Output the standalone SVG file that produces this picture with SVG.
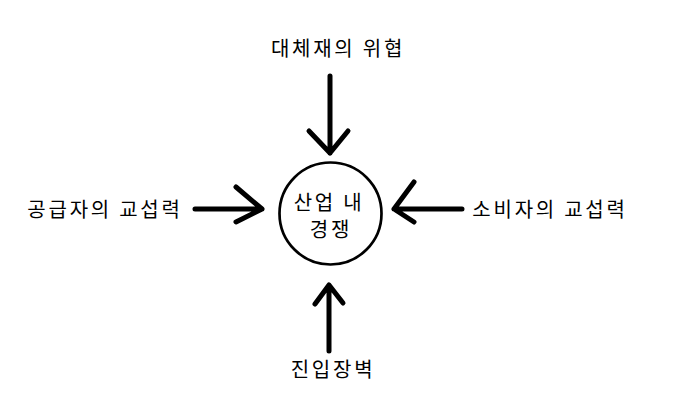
<svg xmlns="http://www.w3.org/2000/svg" width="678" height="411" viewBox="0 0 678 411">
<style>
text{font-family:"Noto Sans CJK KR","Noto Sans",sans-serif;font-size:20px;fill:#000;text-anchor:middle;letter-spacing:2.75px}
.c{fill:none;stroke:#000;stroke-width:5;stroke-linecap:round;stroke-linejoin:round}
</style>
<rect width="678" height="411" fill="#fff"/>
<g id="center">
<circle cx="330.5" cy="213.5" r="51" fill="none" stroke="#000" stroke-width="2.7"/>
<text x="329" y="210">산업 내</text>
<text x="331" y="237">경쟁</text>
</g>
<g id="top"><text x="338" y="56">대체재의 위협</text></g>
<g id="left"><text x="105" y="217">공급자의 교섭력</text></g>
<g id="right"><text x="550" y="217">소비자의 교섭력</text></g>
<g id="bottom"><text x="333" y="377">진입장벽</text></g>
<g id="connectors">
<path class="c" d="M330 76V153M309 131L330 153L348 131"/>
<path class="c" d="M195 209H262M236 187L262 209L236 222"/>
<path class="c" d="M462 209H394M414 182L394 209L414 222"/>
<path class="c" d="M329 351V285M315 304L329 285L343 303"/>
</g>
</svg>
